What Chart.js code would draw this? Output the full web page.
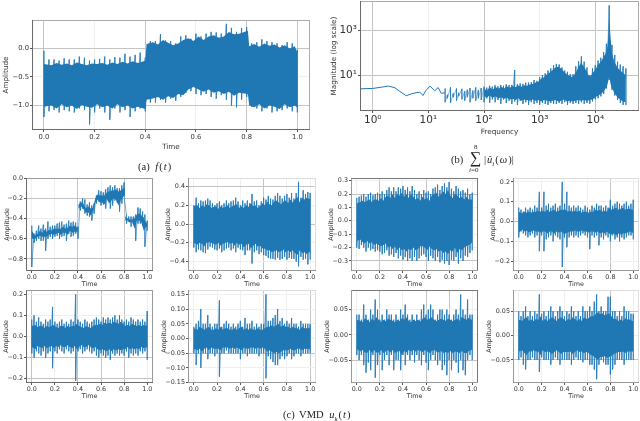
<!DOCTYPE html>
<html>
<head>
<meta charset="utf-8">
<script src="https://cdn.jsdelivr.net/npm/chart.js@4"></script>
<style>
html,body{margin:0;padding:0;background:#fff}
body{position:relative;width:640px;height:421px;overflow:hidden}
canvas{position:absolute;filter:blur(.35px)}
.cap{position:absolute;font-family:"Liberation Serif",serif;font-size:10.5px;color:#222;white-space:nowrap;line-height:1;filter:blur(.2px)}
.cap i{margin:0 1px}
</style>
</head>
<body>
<div class="cap" style="left:138px;top:162px;word-spacing:2px">(a) <i>f</i>(<i>t</i>)</div>
<div class="cap" style="left:451px;top:155px">(b)</div>
<div class="cap" style="left:470px;top:150px;font-size:16px">∑</div>
<div class="cap" style="left:474px;top:144px;font-size:7px">8</div>
<div class="cap" style="left:469px;top:167px;font-size:7px"><i style="margin:0">i</i>=0</div>
<div class="cap" style="left:484px;top:155px">|<i>û<sub style="font-size:7px">i</sub></i>(<i>ω</i>)|</div>
<div class="cap" style="left:283px;top:410px;word-spacing:2px">(c) VMD <i>u<sub style="font-size:7px">k</sub></i>(<i>t</i>)</div>
<script>
// sample times shared by the noisy panels
const timeGrid = [
0,.02,.04,.06,.08,.1,.12,.14,.16,.18,
.2,.22,.24,.26,.28,.3,.32,.34,.36,.38,
.4,.42,.44,.46,.48,.5,.52,.54,.56,.58,
.6,.62,.64,.66,.68,.7,.72,.74,.76,.78,
.8,.82,.84,.86,.88,.9,.92,.94,.96,.98,
1]
const midGrid = [
0,.03,.05,.07,.09,.11,.13,.15,.17,.19,
.21,.23,.25,.27,.29,.31,.33,.35,.37,.39,
.41,.43,.45,.47,.49,.51,.53,.55,.57,.59,
.61,.63,.65,.67,.69,.71,.73,.75,.77,.79,
.81,.83,.85,.87,.89,.91,.93,.95,.97,.99,
1]
// same, with the two level jumps kept sharp
const stepGrid = [
0,.03,.05,.07,.09,.11,.13,.15,.17,.19,
.21,.23,.25,.27,.29,.31,.33,.35,.37,.4,
.405,.43,.45,.47,.49,.51,.53,.55,.57,.59,
.61,.63,.65,.67,.69,.71,.73,.75,.77,.805,
.81,.83,.85,.87,.89,.91,.93,.95,.97,.99,
1]

// (a) f(t)
const fTop = [
-.05,-.2,-.2,-.22,-.18,-.2,-.2,-.15,-.17,-.22,
-.2,-.19,-.15,-.2,-.16,-.17,-.1,-.15,-.12,-.08,
-.17,.12,.12,.24,.13,.12,.08,.2,.22,.16,
.25,.2,.25,.28,.27,.25,.42,.35,.28,.35,
.36,.08,.1,.15,.12,.1,.08,.05,.1,.08,
-.03]
const fBottom = [
-1.2,-1.1,-1.08,-1.12,-1.08,-1.1,-1.12,-1.05,-1.08,-1.33,
-1.12,-1.05,-1.12,-1.25,-1.05,-1.12,-1.08,-1.2,-1.1,-1.05,
-1.1,-.95,-.95,-.9,-.95,-.88,-.92,-.85,-.78,-.75,
-.8,-.82,-.8,-.85,-.88,-.82,-.9,-1,-1.03,-.9,
-.85,-1.02,-1.05,-1.1,-1.05,-1.12,-1.1,-1.08,-1.05,-1.1,
-1.12]
const fCoreTop = [
-.28,-.3,-.26,-.29,-.27,-.3,-.25,-.28,-.3,-.27,
-.28,-.26,-.29,-.25,-.28,-.24,-.27,-.23,-.26,-.22,
.07,.1,.06,.14,.09,.05,.08,.14,.17,.12,
.2,.14,.2,.22,.18,.2,.28,.24,.25,.3,
.03,.07,.02,.08,.04,.06,.01,.05,-.01,.03,
-.08]
const fCoreBottom = [
-1.02,-1,-1.05,-.98,-1.03,-1,-1.06,-.99,-1.02,-1.04,
-.98,-1.03,-1,-1.05,-.98,-1.03,-1,-1.05,-1.02,-1.06,
-.9,-.88,-.85,-.9,-.84,-.87,-.8,-.82,-.72,-.68,
-.72,-.76,-.72,-.78,-.75,-.8,-.76,-.83,-.78,-.8,
-1,-1.03,-.98,-1.05,-1,-1.02,-1.06,-.98,-1.03,-1,
-1.04]

// (b) spectrum
const lowFreq = [.59,1,1.5,1.9,2.5,3,4,5,6,7,8,9,10.7,13,15,17,20]
const lowMag = [2.4,2.5,2.9,3.2,2.7,1.9,1.17,1.45,1.6,1.7,1.2,2,3.2,1.95,2.75,1.5,1.6]
const freqGrid = [
20,22,25,28,32,35,40,45,50,56,
63,71,79,89,100,112,126,141,158,178,
200,224,251,282,316,355,398,447,501,562,
631,708,794,891,1000,1122,1259,1413,1585,1778,
1995,2239,2512,2818,3162,3548,3981,4467,5012,5623,
6310,7079,7943,8913,10000,11220,12589,14125,15849,17783,
19953,22387,25119,28184,31623,35481]
const magTop = [
2.5,1.3,2.8,1.5,2.5,1.6,2.4,1.9,2.2,2.6,
2,2.8,2.1,2.6,3,2.7,3.3,3,3.5,3.1,
3.6,3.3,3.8,3.5,3.6,17,3.9,4.2,4,4.5,
4.6,4.8,6,5.5,8,10,12,16,20,28,
32,30,22,16,14,11,11,25,42,70,
40,22,10,20,28,45,60,110,260,14000,
230,80,40,30,25,20]
const magBottom = [
.6,.9,.55,1,.7,1.1,.8,.7,1,.6,
.9,.7,.9,.75,.6,.9,.55,.8,.6,.75,
.5,.8,.55,.7,.5,.65,.45,.7,.5,.6,
.45,.6,.5,.55,.45,.55,.5,.45,.55,.5,
.5,.55,.5,.6,.45,.55,.5,.55,.5,.6,
.5,.55,.5,.65,.8,.9,1.1,1.4,2.5,6,
2.2,1.2,.75,.55,.45,.45]
const coreFreq = [
100,113,127,143,161,181,204,229,258,290,
327,368,414,466,524,590,664,747,841,946,
1065,1198,1349,1518,1708,1922,2163,2434,2739,3082,
3469,3903,4392,4943,5562,6259,7043,7926,8919,10037,
11294,12710,14303,16095,17000,17783,18800,20000,22000,25000,
28000,31000,35000]
const magCoreTop = [
2.4,2,2.8,2.2,2.9,2.4,3,2.5,3.1,2.7,
3.2,2.8,3.4,3,3.5,3.3,3.8,4,4.6,5,
7,8,11,13,17,22,24,20,14,11,
9,8,12,22,36,24,14,8,12,18,
30,40,70,120,400,4300,500,90,40,22,
16,13,10]
const magCoreBottom = [
1.1,1,1.2,.95,1.1,.9,1,.85,.95,.8,
.85,.75,.9,.7,.8,.75,.7,.8,.7,.75,
.65,.75,.7,.65,.7,.75,.65,.7,.8,.65,
.7,.65,.7,.75,.7,.75,.7,.75,.8,1,
1.2,1.4,1.9,3,5,9,4,2.5,1.6,1,
.8,.65,.6]

// (c) VMD modes
const u1Top = [
-.47,-.55,-.52,-.47,-.5,-.46,-.5,-.43,-.48,-.47,
-.47,-.45,-.44,-.43,-.46,-.45,-.42,-.44,-.43,-.44,
-.48,-.23,-.2,-.21,-.26,-.24,-.27,-.25,-.17,-.12,
-.13,-.14,-.11,-.09,-.07,-.09,-.07,-.1,-.1,-.07,
-.04,-.36,-.38,-.38,-.38,-.36,-.29,-.3,-.33,-.36,
-.42]
const u1Bottom = [
-.88,-.64,-.62,-.6,-.62,-.62,-.72,-.6,-.58,-.6,
-.58,-.57,-.6,-.58,-.57,-.62,-.55,-.58,-.57,-.55,
-.6,-.32,-.3,-.35,-.37,-.38,-.42,-.35,-.25,-.23,
-.27,-.26,-.3,-.22,-.3,-.27,-.22,-.24,-.33,-.25,
-.18,-.45,-.43,-.48,-.45,-.62,-.45,-.45,-.47,-.68,
-.52]
const u1CoreTop = [
-.52,-.57,-.55,-.52,-.54,-.51,-.53,-.51,-.52,-.5,
-.5,-.5,-.5,-.48,-.5,-.49,-.47,-.48,-.47,-.49,
-.26,-.24,-.26,-.3,-.28,-.3,-.29,-.2,-.16,-.17,
-.17,-.17,-.14,-.13,-.12,-.12,-.11,-.13,-.12,-.09,
-.38,-.4,-.41,-.41,-.4,-.36,-.35,-.37,-.39,-.44,
-.44]
const u1CoreBottom = [
-.6,-.6,-.58,-.57,-.58,-.58,-.58,-.56,-.55,-.56,
-.55,-.54,-.56,-.54,-.54,-.56,-.52,-.54,-.53,-.53,
-.3,-.28,-.31,-.34,-.34,-.37,-.33,-.24,-.21,-.24,
-.24,-.26,-.2,-.25,-.22,-.2,-.21,-.27,-.22,-.16,
-.42,-.42,-.44,-.43,-.5,-.42,-.42,-.44,-.52,-.48,
-.48]

const u2Top = [
.2,.28,.22,.25,.24,.25,.27,.25,.22,.2,
.22,.24,.2,.22,.25,.22,.24,.25,.28,.24,
.2,.25,.22,.25,.22,.32,.24,.25,.2,.24,
.28,.26,.3,.27,.26,.3,.33,.3,.27,.3,
.32,.28,.33,.27,.33,.45,.28,.36,.32,.34,
.33]
const u2Bottom = [
-.25,-.3,-.27,-.28,-.3,-.31,-.27,-.24,-.25,-.27,
-.28,-.26,-.3,-.28,-.26,-.25,-.28,-.26,-.3,-.25,
-.27,-.28,-.33,-.28,-.28,-.42,-.3,-.28,-.32,-.3,
-.33,-.34,-.36,-.37,-.37,-.38,-.36,-.38,-.37,-.35,
-.38,-.36,-.37,-.37,-.4,-.45,-.35,-.38,-.37,-.43,
-.38]
const u2CoreTop = [
.19,.2,.17,.2,.18,.21,.2,.17,.18,.19,
.16,.19,.17,.18,.2,.17,.19,.2,.21,.17,
.19,.17,.2,.18,.22,.19,.2,.17,.19,.22,
.2,.24,.21,.2,.24,.25,.23,.21,.24,.25,
.22,.26,.23,.26,.29,.23,.28,.26,.28,.27,
.27]
const u2CoreBottom = [
-.2,-.22,-.2,-.21,-.24,-.2,-.19,-.2,-.21,-.22,
-.2,-.23,-.21,-.2,-.19,-.21,-.2,-.23,-.2,-.22,
-.21,-.25,-.22,-.21,-.26,-.23,-.21,-.24,-.23,-.26,
-.26,-.28,-.28,-.3,-.29,-.28,-.3,-.29,-.27,-.3,
-.28,-.3,-.28,-.31,-.33,-.28,-.31,-.3,-.32,-.3,
-.3]

const u3Top = [
.17,.18,.19,.2,.18,.2,.21,.19,.2,.21,
.2,.22,.2,.23,.25,.22,.25,.22,.25,.24,
.26,.23,.25,.22,.26,.23,.2,.22,.2,.23,
.21,.22,.2,.24,.25,.27,.23,.26,.28,.25,
.29,.24,.22,.26,.24,.22,.23,.21,.24,.2,
.21]
const u3Bottom = [
-.2,-.21,-.18,-.2,-.23,-.2,-.22,-.21,-.23,-.22,
-.23,-.25,-.24,-.22,-.26,-.25,-.27,-.24,-.28,-.26,
-.29,-.27,-.3,-.28,-.3,-.27,-.3,-.28,-.26,-.25,
-.27,-.3,-.26,-.28,-.3,-.27,-.31,-.29,-.32,-.3,
-.33,-.29,-.3,-.27,-.32,-.28,-.3,-.26,-.27,-.24,
-.22]
const u3CoreTop = [
.13,.14,.15,.14,.15,.16,.14,.16,.16,.15,
.17,.15,.18,.19,.17,.2,.17,.2,.19,.21,
.18,.2,.17,.2,.18,.16,.17,.15,.18,.16,
.17,.15,.19,.2,.21,.18,.2,.22,.2,.23,
.19,.17,.2,.19,.17,.18,.16,.18,.16,.16,
.16]
const u3CoreBottom = [
-.15,-.14,-.16,-.17,-.15,-.17,-.16,-.18,-.17,-.18,
-.19,-.18,-.17,-.2,-.19,-.21,-.19,-.22,-.2,-.22,
-.21,-.23,-.21,-.22,-.2,-.22,-.21,-.19,-.19,-.2,
-.22,-.19,-.21,-.22,-.21,-.23,-.22,-.24,-.23,-.25,
-.22,-.23,-.2,-.24,-.21,-.22,-.2,-.19,-.18,-.17,
-.16]

const u4Top = [
.07,.06,.05,.07,.06,.07,.06,.08,.07,.15,
.07,.15,.08,.09,.07,.08,.09,.07,.08,.2,
.09,.15,.08,.07,.08,.07,.08,.07,.06,.08,
.07,.06,.08,.07,.09,.08,.08,.07,.08,.07,
.11,.08,.09,.1,.09,.08,.09,.1,.08,.09,
.11]
const u4Bottom = [
-.08,-.05,-.06,-.07,-.08,-.07,-.06,-.08,-.07,-.15,
-.07,-.15,-.09,-.08,-.07,-.1,-.07,-.08,-.09,-.23,
-.08,-.13,-.08,-.07,-.08,-.07,-.08,-.07,-.06,-.07,
-.08,-.14,-.07,-.08,-.07,-.12,-.08,-.09,-.07,-.08,
-.1,-.07,-.09,-.08,-.1,-.08,-.09,-.08,-.07,-.07,
-.09]
const u4CoreTop = [
.05,.04,.05,.045,.05,.045,.05,.05,.055,.05,
.055,.05,.06,.05,.055,.06,.05,.055,.06,.06,
.06,.05,.055,.05,.055,.05,.055,.045,.05,.05,
.045,.05,.05,.06,.055,.06,.05,.055,.05,.07,
.06,.065,.07,.06,.065,.07,.06,.065,.065,.06,
.06]
const u4CoreBottom = [
-.055,-.04,-.05,-.045,-.055,-.05,-.045,-.05,-.05,-.055,
-.05,-.05,-.06,-.05,-.05,-.06,-.05,-.055,-.05,-.06,
-.06,-.055,-.05,-.05,-.045,-.05,-.05,-.045,-.05,-.05,
-.055,-.05,-.05,-.055,-.05,-.06,-.055,-.06,-.05,-.06,
-.065,-.06,-.07,-.06,-.065,-.06,-.06,-.055,-.05,-.055,
-.06]

const u5Top = [
.08,.1,.07,.09,.07,.06,.08,.07,.08,.14,
.07,.06,.07,.08,.06,.07,.06,.08,.07,.2,
.08,.07,.06,.08,.07,.06,.07,.08,.09,.08,
.07,.09,.08,.09,.08,.09,.1,.08,.1,.08,
.07,.08,.07,.09,.08,.07,.08,.07,.08,.07,
.12]
const u5Bottom = [
-.08,-.1,-.07,-.08,-.09,-.07,-.1,-.08,-.07,-.15,
-.07,-.08,-.06,-.07,-.08,-.06,-.07,-.08,-.07,-.21,
-.07,-.06,-.08,-.07,-.06,-.07,-.08,-.07,-.09,-.1,
-.08,-.09,-.1,-.09,-.11,-.08,-.09,-.08,-.09,-.08,
-.09,-.07,-.1,-.08,-.09,-.08,-.09,-.07,-.08,-.07,
-.11]
const u5CoreTop = [
.05,.055,.045,.05,.05,.04,.05,.045,.05,.055,
.045,.04,.05,.05,.04,.05,.045,.05,.05,.06,
.05,.045,.04,.05,.045,.04,.05,.055,.055,.06,
.055,.065,.06,.065,.06,.07,.065,.06,.07,.06,
.05,.055,.05,.06,.055,.05,.055,.05,.055,.05,
.06]
const u5CoreBottom = [
-.05,-.06,-.045,-.05,-.055,-.045,-.055,-.05,-.045,-.055,
-.045,-.05,-.04,-.05,-.05,-.04,-.05,-.055,-.045,-.06,
-.05,-.04,-.05,-.05,-.04,-.05,-.055,-.05,-.06,-.065,
-.06,-.065,-.07,-.06,-.07,-.06,-.065,-.06,-.065,-.06,
-.06,-.05,-.06,-.055,-.06,-.055,-.06,-.05,-.055,-.05,
-.06]

const u6Top = [
.04,.05,.06,.1,.05,.05,.08,.05,.04,.05,
.05,.13,.04,.05,.06,.05,.04,.05,.04,.05,
.06,.04,.07,.05,.05,.06,.04,.05,.04,.05,
.05,.15,.06,.06,.07,.08,.1,.06,.07,.05,
.06,.05,.07,.05,.05,.04,.06,.05,.05,.05,
.05]
const u6Bottom = [
-.05,-.09,-.05,-.1,-.05,-.05,-.07,-.05,-.05,-.06,
-.05,-.13,-.05,-.05,-.04,-.05,-.05,-.05,-.05,-.05,
-.07,-.05,-.05,-.06,-.05,-.05,-.05,-.05,-.06,-.05,
-.05,-.135,-.06,-.07,-.08,-.09,-.09,-.07,-.06,-.07,
-.06,-.05,-.07,-.06,-.05,-.05,-.06,-.05,-.05,-.05,
-.05]
const u6CoreTop = [
.035,.03,.04,.035,.03,.035,.04,.03,.03,.035,
.03,.04,.03,.035,.035,.03,.03,.035,.03,.035,
.04,.03,.035,.03,.035,.03,.03,.035,.03,.03,
.035,.04,.04,.045,.04,.045,.05,.04,.045,.04,
.04,.035,.04,.035,.035,.03,.04,.035,.035,.035,
.04]
const u6CoreBottom = [
-.035,-.04,-.035,-.045,-.035,-.03,-.04,-.03,-.035,-.035,
-.035,-.04,-.03,-.03,-.03,-.035,-.03,-.035,-.03,-.035,
-.04,-.03,-.035,-.035,-.03,-.03,-.035,-.03,-.035,-.03,
-.035,-.045,-.04,-.045,-.05,-.045,-.05,-.045,-.04,-.04,
-.04,-.035,-.04,-.04,-.035,-.035,-.04,-.035,-.035,-.035,
-.04]

const u7Top = [
.04,.04,.03,.06,.04,.03,.05,.04,.07,.05,
.03,.04,.03,.05,.04,.04,.03,.04,.03,.05,
.04,.06,.04,.03,.04,.03,.04,.03,.05,.06,
.04,.05,.06,.05,.03,.04,.05,.05,.04,.05,
.04,.03,.04,.05,.04,.08,.05,.04,.07,.04,
.04]
const u7Bottom = [
-.04,-.05,-.04,-.06,-.075,-.055,-.07,-.04,-.085,-.06,
-.04,-.07,-.05,-.04,-.06,-.04,-.07,-.05,-.05,-.07,
-.04,-.06,-.04,-.05,-.04,-.055,-.04,-.05,-.06,-.04,
-.055,-.07,-.05,-.04,-.05,-.06,-.05,-.07,-.06,-.08,
-.05,-.07,-.05,-.055,-.075,-.05,-.07,-.08,-.05,-.04,
-.05]
const u7CoreTop = [
.03,.028,.025,.033,.03,.025,.032,.028,.035,.03,
.025,.03,.027,.032,.03,.028,.025,.03,.027,.033,
.03,.035,.028,.025,.03,.027,.03,.026,.032,.035,
.03,.032,.035,.03,.027,.03,.032,.03,.028,.032,
.03,.027,.03,.032,.028,.036,.032,.03,.034,.03,
.03]
const u7CoreBottom = [
-.028,-.033,-.03,-.035,-.036,-.03,-.036,-.03,-.035,-.035,
-.03,-.036,-.033,-.03,-.035,-.03,-.036,-.033,-.032,-.04,
-.032,-.035,-.03,-.033,-.03,-.033,-.03,-.032,-.034,-.03,
-.033,-.036,-.032,-.03,-.033,-.035,-.032,-.036,-.034,-.036,
-.032,-.036,-.033,-.034,-.036,-.032,-.036,-.036,-.032,-.03,
-.03]

const u8Top = [
.05,.04,.05,.06,.04,.05,.04,.05,.045,.085,
.045,.05,.04,.05,.06,.05,.04,.05,.06,.05,
.04,.05,.045,.06,.05,.04,.05,.04,.06,.05,
.05,.06,.05,.07,.085,.05,.06,.05,.05,.08,
.08,.05,.05,.04,.05,.04,.06,.05,.05,.045,
.045]
const u8Bottom = [
-.05,-.045,-.06,-.07,-.05,-.05,-.045,-.05,-.05,-.075,
-.045,-.05,-.05,-.05,-.06,-.05,-.045,-.05,-.06,-.05,
-.05,-.05,-.05,-.06,-.05,-.045,-.05,-.05,-.055,-.05,
-.05,-.06,-.06,-.07,-.09,-.06,-.05,-.055,-.06,-.06,
-.08,-.07,-.06,-.05,-.05,-.05,-.06,-.05,-.05,-.05,
-.05]
const u8CoreTop = [
.033,.03,.035,.038,.03,.033,.03,.034,.032,.04,
.03,.034,.03,.034,.038,.034,.03,.035,.038,.034,
.03,.034,.032,.038,.034,.03,.034,.03,.038,.034,
.036,.04,.04,.044,.048,.044,.046,.042,.044,.046,
.04,.034,.034,.03,.033,.03,.036,.033,.033,.03,
.03]
const u8CoreBottom = [
-.033,-.03,-.036,-.04,-.033,-.033,-.03,-.033,-.033,-.04,
-.03,-.034,-.033,-.034,-.038,-.034,-.03,-.034,-.038,-.034,
-.034,-.034,-.033,-.038,-.034,-.03,-.034,-.033,-.036,-.034,
-.036,-.04,-.042,-.046,-.05,-.044,-.044,-.042,-.046,-.044,
-.042,-.038,-.036,-.034,-.034,-.033,-.036,-.033,-.033,-.033,
-.033]

// tick labels
const timeTicks = [0,.2,.4,.6,.8,1]
const freqTicks = [1,10,100,1000,10000]
const freqLabels = ["10⁰","10¹","10²","10³","10⁴"]
const magTicks = [10,1000]
const magLabels = ["10¹","10³"]

const BLUE = "#1f77b4"
const SPIKE = "rgba(31,119,180,.55)"
const GRID_STRONG = "#c4c4c4"
const GRID_WEAK = "#efefef"

const zigzag = (t,top,bottom) => t.flatMap((x,i)=>[{x,y:top[i]},{x,y:bottom[i]}])
const pairs = (t,v) => t.map((x,i)=>({x,y:v[i]}))
const minusFmt = (v,d) => v.toFixed(d).replace("-","−")

const spinePlugin = {
  id:"spines",
  afterDraw(chart,args,opts){
    const a = chart.chartArea, c = chart.ctx
    c.save()
    c.lineWidth = 1
    c.strokeStyle = opts.far
    c.beginPath()
    c.moveTo(a.left,a.top+.5); c.lineTo(a.right,a.top+.5)
    c.moveTo(a.right-.5,a.top); c.lineTo(a.right-.5,a.bottom)
    c.stroke()
    c.strokeStyle = opts.near
    c.beginPath()
    c.moveTo(a.left+.5,a.top); c.lineTo(a.left+.5,a.bottom)
    c.moveTo(a.left,a.bottom-.5); c.lineTo(a.right,a.bottom-.5)
    c.stroke()
    c.restore()
  }
}

// jagged dark band on top, lighter spikes under it
function noiseSets(t,top,bottom,ct,coreTop,coreBottom){
  return [
    {data:pairs(ct,coreTop),fill:"+1",backgroundColor:BLUE,borderWidth:0,pointRadius:0},
    {data:pairs(ct,coreBottom),fill:false,borderWidth:0,pointRadius:0},
    {data:zigzag(t,top,bottom),borderColor:SPIKE,borderWidth:1,pointRadius:0,fill:false}
  ]
}

function panel(p){
  const cv = document.createElement("canvas")
  const padTop = 8, padRight = 3
  const w = p.r-p.l+p.yw+padRight, h = p.b-p.t+padTop+p.xh
  cv.width = w; cv.height = h
  cv.style.left = (p.l-p.yw)+"px"
  cv.style.top = (p.t-padTop)+"px"
  document.body.appendChild(cv)
  const tickFont = {family:"DejaVu Sans",size:p.tickSize||6.4}
  const titleFont = {family:"DejaVu Sans",size:p.titleSize||6.4}
  const strong = (list,v) => list.some(s=>Math.abs(s-v)<1e-9)
  new Chart(cv,{
    type:"line",
    data:{datasets:p.sets},
    plugins:[spinePlugin],
    options:{
      responsive:false,
      animation:false,
      events:[],
      layout:{autoPadding:false,padding:{top:padTop,right:padRight,left:0,bottom:0}},
      plugins:{legend:{display:false},tooltip:{enabled:false},title:{display:false},
        spines:{near:p.near||"#6a6a6a",far:p.far||"#bbb"}},
      scales:{
        x:{
          type:p.xType||"linear",min:p.xMin,max:p.xMax,
          afterFit(s){s.height=p.xh},
          afterBuildTicks(s){s.ticks=p.xTicks.map(v=>({value:v}))},
          grid:{color:c=>strong(p.xStrong,c.tick.value)?GRID_STRONG:GRID_WEAK,lineWidth:1,tickColor:"#555",tickLength:2},
          border:{display:false},
          ticks:{font:p.xTickFont?{family:"DejaVu Sans",size:p.xTickFont}:tickFont,color:"#333",padding:1,maxRotation:0,autoSkip:false,
            callback:v=>p.xLabels?p.xLabels[p.xTicks.indexOf(v)]:v.toFixed(1)},
          title:{display:true,text:p.xTitle,font:titleFont,color:"#333",padding:{top:0,bottom:0}}
        },
        y:{
          type:p.yType||"linear",min:p.yMin,max:p.yMax,
          afterFit(s){s.width=p.yw},
          afterBuildTicks(s){s.ticks=p.yTicks.map(v=>({value:v}))},
          grid:{color:c=>strong(p.yStrong,c.tick.value)?GRID_STRONG:GRID_WEAK,lineWidth:1,tickColor:"#555",tickLength:2},
          border:{display:false},
          ticks:{font:p.yTickFont?{family:"DejaVu Sans",size:p.yTickFont}:tickFont,color:"#333",padding:1,autoSkip:false,
            callback:v=>p.yLabels?p.yLabels[p.yTicks.indexOf(v)]:minusFmt(v,p.dec)},
          title:{display:true,text:p.yTitle,font:titleFont,color:"#333",padding:{top:0,bottom:0}}
        }
      }
    }
  })
}

const small = {xMin:-.05,xMax:1.05,xTicks:timeTicks,xTitle:"Time",yTitle:"Amplitude",xh:17}

panel({l:32,t:20,r:310,b:130,yw:30,xh:21,xMin:-.047,xMax:1.05,yMin:-1.426,yMax:.487,
  xTicks:timeTicks,yTicks:[-1,-.5,0],dec:1,xStrong:[0,.4,.8,1],yStrong:[-1,0],
  xTitle:"Time",yTitle:"Amplitude",tickSize:6.8,titleSize:7.2,far:"#aaa",
  sets:noiseSets(timeGrid,fTop,fBottom,stepGrid,fCoreTop,fCoreBottom)})

panel({l:360,t:1,r:639,b:111,yw:30,xh:25,xType:"logarithmic",yType:"logarithmic",
  xMin:.59,xMax:61000,yMin:.24,yMax:22000,
  xTicks:freqTicks,xLabels:freqLabels,yTicks:magTicks,yLabels:magLabels,xStrong:[1,100,10000],yStrong:[10,1000],
  xTitle:"Frequency",yTitle:"Magnitude (log scale)",xTickFont:10.5,yTickFont:10.5,titleSize:7.3,far:"#aaa",
  sets:[{data:pairs(lowFreq,lowMag),borderColor:BLUE,borderWidth:1,pointRadius:0,fill:false}]
    .concat(noiseSets(freqGrid,magTop,magBottom,coreFreq,magCoreTop,magCoreBottom))})

panel({...small,l:26,t:178,r:153,b:271,yw:22,yMin:-.92,yMax:.003,yTicks:[-.8,-.6,-.4,-.2,0],dec:1,
  xStrong:[.4,.8],yStrong:[-.8,-.2],far:"#999",
  sets:noiseSets(timeGrid,u1Top,u1Bottom,stepGrid,u1CoreTop,u1CoreBottom)})
panel({...small,l:188,t:178,r:316,b:271,yw:23,yMin:-.5,yMax:.49,yTicks:[-.4,-.2,0,.2,.4],dec:1,
  xStrong:[.6],yStrong:[.4,0],far:"#ddd",near:"#999",
  sets:noiseSets(timeGrid,u2Top,u2Bottom,midGrid,u2CoreTop,u2CoreBottom)})
panel({...small,l:351,t:178,r:478,b:271,yw:23,yMin:-.375,yMax:.32,yTicks:[-.3,-.2,-.1,0,.1,.2,.3],dec:1,
  xStrong:[.2,.6],yStrong:[-.3,.2],far:"#777",near:"#999",
  sets:noiseSets(timeGrid,u3Top,u3Bottom,midGrid,u3CoreTop,u3CoreBottom)})
panel({...small,l:513,t:178,r:639,b:271,yw:23,yMin:-.25,yMax:.22,yTicks:[-.2,-.1,0,.1,.2],dec:1,
  xStrong:[.8],yStrong:[0],far:"#ddd",near:"#999",
  sets:noiseSets(timeGrid,u4Top,u4Bottom,midGrid,u4CoreTop,u4CoreBottom)})

panel({...small,l:26,t:290,r:153,b:383,yw:23,yMin:-.22,yMax:.22,yTicks:[-.2,-.1,0,.1,.2],dec:1,
  xStrong:[0,.4,.6,.8],yStrong:[-.1,-.2],far:"#999",
  sets:noiseSets(timeGrid,u5Top,u5Bottom,midGrid,u5CoreTop,u5CoreBottom)})
panel({...small,l:188,t:290,r:316,b:383,yw:27,yMin:-.151,yMax:.165,yTicks:[-.15,-.1,-.05,0,.05,.1,.15],dec:2,
  xStrong:[.6,1],yStrong:[-.05],far:"#ddd",near:"#999",
  sets:noiseSets(timeGrid,u6Top,u6Bottom,midGrid,u6CoreTop,u6CoreBottom)})
panel({...small,l:351,t:290,r:478,b:383,yw:27,yMin:-.0955,yMax:.089,yTicks:[-.05,0,.05],dec:2,
  xStrong:[.2,.6,.8],yStrong:[-.05],far:"#777",near:"#999",
  sets:noiseSets(timeGrid,u7Top,u7Bottom,midGrid,u7CoreTop,u7CoreBottom)})
panel({...small,l:513,t:290,r:639,b:383,yw:27,yMin:-.0977,yMax:.094,yTicks:[-.05,0,.05],dec:2,
  xStrong:[.8],yStrong:[.05,-.05],far:"#ddd",near:"#999",
  sets:noiseSets(timeGrid,u8Top,u8Bottom,midGrid,u8CoreTop,u8CoreBottom)})
</script>
</body>
</html>
